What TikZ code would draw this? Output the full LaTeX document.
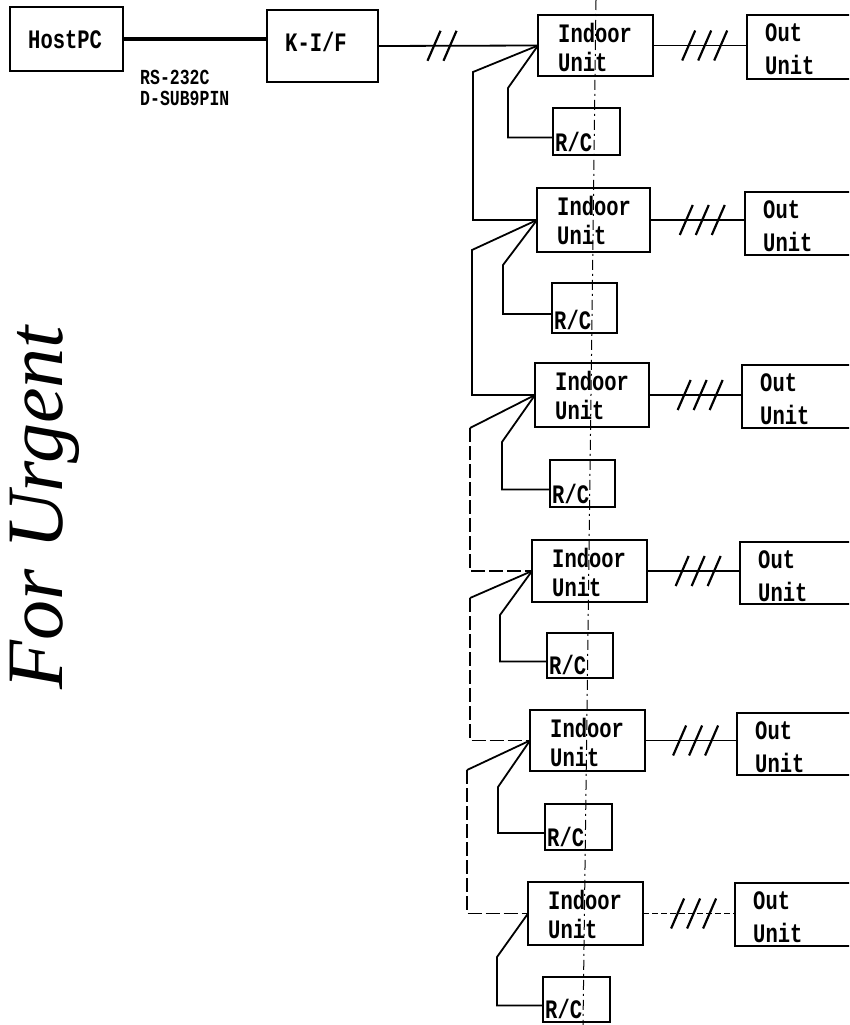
\documentclass[tikz,border=0pt]{standalone}
\usepackage{fontspec}
\setmonofont{Liberation Mono}
\newfontfamily\handfont{Liberation Serif}
\usetikzlibrary{calc}
\newcommand{\dm}[1]{\scalebox{1}[1.3]{\ttfamily\bfseries #1}}
\newcommand{\mybox}[5]{\node[box, anchor=north west, minimum width={(#4)-(#2)}, minimum height={(#5)-(#3)}] (#1) at (#2,#3) {};}
\begin{document}
\begin{tikzpicture}[x=1pt,y=-1pt,
  box/.style={draw, line width=1.8pt, inner sep=0pt, outer sep=0pt},
  wire/.style={line width=1.8pt},
  thickwire/.style={line width=4.5pt},
  slash/.style={line width=2.2pt},
  lbl/.style={inner sep=0pt, anchor=west, font=\fontsize{20.5}{22}\selectfont},
  small/.style={inner sep=0pt, anchor=west, font=\fontsize{16.5}{18}\selectfont},
  fold/.style={line width=1pt, dash pattern=on 10pt off 4pt on 2pt off 4pt},
  broken/.style={line width=1.8pt, dash pattern=on 14pt off 4pt},
  hand/.style={rotate=90, anchor=base west, inner sep=0pt, text height=0.7em, text depth=0.2em,
    font=\handfont\itshape\fontsize{80}{90}\selectfont}]
\clip (0,0) rectangle (849,1025);
% host and interface
\mybox{host}{10}{7}{123}{71}
\mybox{kif}{267}{10}{378}{82}
\node[lbl] (hostt) at (28,40) {\dm{HostPC}};
\node[lbl] (kift) at (285,42) {\dm{K-I/F}};
\node[small] (rs) at (140,77) {\dm{RS-232C}};
\node[small] (dsub) at (140,98) {\dm{D-SUB9PIN}};
\draw[thickwire] (host.east) -- (kif.west |- host.east);
% groups
\mybox{ind1}{538}{15}{653}{76}
\mybox{out1}{747}{15}{870}{79}
\mybox{rc1}{553}{108}{620}{155}
\mybox{ind2}{537}{188}{650}{252}
\mybox{out2}{745}{192}{870}{255}
\mybox{rc2}{552}{283}{617}{333}
\mybox{ind3}{535}{363}{649}{427}
\mybox{out3}{742}{365}{870}{428}
\mybox{rc3}{550}{460}{615}{507}
\mybox{ind4}{532}{540}{647}{602}
\mybox{out4}{740}{542}{870}{604}
\mybox{rc4}{547}{633}{613}{678}
\mybox{ind5}{530}{710}{645}{771}
\mybox{out5}{737}{713}{870}{775}
\mybox{rc5}{545}{804}{612}{850}
\mybox{ind6}{528}{882}{643}{945}
\mybox{out6}{735}{883}{870}{946}
\mybox{rc6}{543}{977}{610}{1022}
\foreach \i in {1,...,6}{
  \node[lbl] (ind\i a) at ($(ind\i.north west)+(20,18)$) {\dm{Indoor}};
  \node[lbl] (ind\i b) at ($(ind\i.north west)+(20,47)$) {\dm{Unit}};
  \node[lbl] (out\i a) at ($(out\i.north west)+(18,18)$) {\dm{Out}};
  \node[lbl] (out\i b) at ($(out\i.north west)+(18,50)$) {\dm{Unit}};
  \node[lbl, anchor=south west] (rc\i t) at ($(rc\i.south west)+(2,-3)$) {\dm{R/C}};
}
% interface to first indoor unit
\draw[wire] (kif.east) -- (ind1.west) coordinate[pos=0.4] (mk);
\foreach \k in {-8,8} \draw[slash] ($(mk)+(\k-6.5,15)$) -- ($(mk)+(\k+6.5,-15)$);
% indoor to outdoor links
\foreach \i in {1,...,5}{
  \draw[wire] (ind\i.east) -- (ind\i.east -| out\i.west) coordinate[pos=0.55] (m\i);
}
\draw[broken, dash pattern=on 6pt off 3pt] (ind6.east) -- (ind6.east -| out6.west) coordinate[pos=0.55] (m6);
\foreach \i in {1,...,6}{
  \foreach \k in {-16,0,16} \draw[slash] ($(m\i)+(\k-6.5,15)$) -- ($(m\i)+(\k+6.5,-15)$);
}
% bus between indoor units
\draw[wire] (ind1.west) -- (473,72) |- (ind2.west);
\draw[wire] (ind2.west) -- (472,250) |- (ind3.west);
\draw[wire] (ind3.west) -- (470,428) coordinate (b3);
\draw[broken] (b3) |- (ind4.west);
\draw[wire] (ind4.west) -- (470,598) coordinate (b4);
\draw[broken] (b4) |- (ind5.west);
\draw[wire] (ind5.west) -- (467,770) coordinate (b5);
\draw[broken] (b5) |- (ind6.west);
% remote controllers
\draw[wire] (ind1.west) -- (508,88) |- ([yshift=-6pt]rc1.west);
\draw[wire] (ind2.west) -- (503,265) |- ([yshift=-6pt]rc2.west);
\draw[wire] (ind3.west) -- (502,442) |- ([yshift=-6pt]rc3.west);
\draw[wire] (ind4.west) -- (500,615) |- ([yshift=-6pt]rc4.west);
\draw[wire] (ind5.west) -- (498,787) |- ([yshift=-6pt]rc5.west);
\draw[wire] (ind6.west) -- (497,957) |- ([yshift=-6pt]rc6.west);
% fold line
\coordinate (foldtop) at (596,0);
\coordinate (foldbot) at (583,1025);
\draw[fold] (foldtop) -- (foldbot);
% handwritten note
\node[hand] (note) at (62,690) {For Urgent};
\end{tikzpicture}
\end{document}
